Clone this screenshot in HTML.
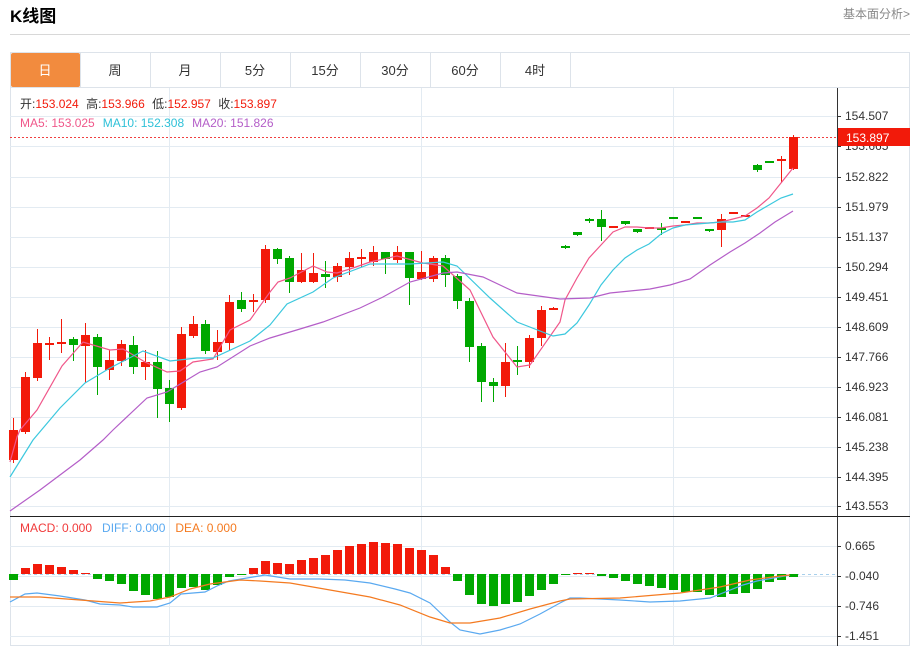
<!DOCTYPE html>
<html><head><meta charset="utf-8"><style>
body{margin:0;width:915px;height:646px;overflow:hidden;background:#fff;font-family:"Liberation Sans","Noto Sans CJK SC",sans-serif;}
</style></head><body>
<svg id="s" width="915" height="646" xmlns="http://www.w3.org/2000/svg" font-family="Liberation Sans, Noto Sans CJK SC, sans-serif">
<text x="10" y="22" font-size="17" font-weight="bold" fill="#000">K线图</text>
<text x="843" y="18" font-size="12" fill="#888">基本面分析&gt;</text>
<line x1="10" y1="34.5" x2="910" y2="34.5" stroke="#d8d8d8"/>
<rect x="10.5" y="52.5" width="899" height="593" fill="none" stroke="#dde3ea"/>
<line x1="10" y1="87.5" x2="910" y2="87.5" stroke="#dde3ea"/>
<rect x="11" y="53" width="69" height="34" fill="#f28b3e" rx="2"/>
<g id="tabs" font-size="13" fill="#333" text-anchor="middle"></g>
<g id="g"></g>
</svg>
<script>
var S=document.getElementById('g'),h='';
var tabs=['日','周','月','5分','15分','30分','60分','4时'],t='';
for(var i=0;i<8;i++){t+='<text x="'+(45+70*i)+'" y="75" fill="'+(i?'#333':'#fff')+'">'+tabs[i]+'</text>';
 if(i>0)t+='<line x1="'+(80+70*(i-1)+0.5)+'" y1="53" x2="'+(80+70*(i-1)+0.5)+'" y2="87" stroke="#dde3ea"/>';}
t+='<line x1="570.5" y1="53" x2="570.5" y2="87" stroke="#dde3ea"/>';
document.getElementById('tabs').innerHTML=t;
var py=[116,146,177,207,237,267,297,327,357,387,417,447,477,506],pl=['154.507','153.665','152.822','151.979','151.137','150.294','149.451','148.609','147.766','146.923','146.081','145.238','144.395','143.553'];
for(i=0;i<py.length;i++){h+='<line x1="10" y1="'+(py[i]+.5)+'" x2="837" y2="'+(py[i]+.5)+'" stroke="#e3ebf2"/>';
 h+='<line x1="837" y1="'+(py[i]+.5)+'" x2="841" y2="'+(py[i]+.5)+'" stroke="#333"/><text x="845" y="'+(py[i]+4)+'" font-size="12" fill="#333">'+pl[i]+'</text>';}
[169.5,421.5,673.5].forEach(function(x){h+='<line x1="'+x+'" y1="88" x2="'+x+'" y2="646" stroke="#e3ebf2"/>';});
var my=[546,576,606,636],ml=['0.665','-0.040','-0.746','-1.451'];
for(i=0;i<4;i++){h+='<line x1="10" y1="'+(my[i]+.5)+'" x2="837" y2="'+(my[i]+.5)+'" stroke="#e3ebf2"/><line x1="837" y1="'+(my[i]+.5)+'" x2="841" y2="'+(my[i]+.5)+'" stroke="#333"/><text x="845" y="'+(my[i]+4)+'" font-size="12" fill="#333">'+ml[i]+'</text>';}
h+='<line x1="10" y1="574.5" x2="837" y2="574.5" stroke="#a8d0ec" stroke-dasharray="3,3"/>';
h+='<line x1="837.5" y1="88" x2="837.5" y2="646" stroke="#333"/><line x1="10" y1="516.5" x2="910" y2="516.5" stroke="#222"/>';
h+='<line x1="10" y1="137.5" x2="837" y2="137.5" stroke="#f04040" stroke-dasharray="2,2"/>';
h+='<rect x="838" y="128" width="72" height="18" fill="#f21a0a"/><text x="846" y="142" font-size="12" fill="#fff">153.897</text>';
var C=[['r',430,460,418,463],['r',377,432,372,434],['r',343,378,329,381],['r',343,345,337,360],['r',342,344,319,353],['g',339,345,337,361],['r',335,346,323,383],['g',337,367,334,395],['r',360,370,350,380],['r',344,361,340,366],['g',345,367,336,374],['r',362,367,350,380],['g',362,389,351,418],['g',388,404,380,422],['r',334,408,327,410],['r',324,336,316,338],['g',324,351,320,354],['r',342,352,330,360],['r',302,343,295,350],['g',300,309,292,312],['r',300,302,294,312],['r',249,300,245,303],
['g',249,259,248,264],['g',258,282,256,293],['r',270,282,253,283],['r',273,282,253,283],['g',274,277,261,288],['r',266,277,263,282],['r',258,267,252,275],['r',257,259,249,267],['r',252,262,246,266],['g',252,259,252,274],['r',252,260,246,263],['g',252,278,252,305],['r',272,279,251,280],['r',258,279,256,282],['g',258,275,255,287],['g',276,301,274,309],['g',301,347,298,362],['g',346,382,343,402],['g',382,386,378,402],['r',362,386,343,397],['g',360,362,346,375],['r',338,362,335,368],['r',310,338,306,346],['r',308,310,307,310],
['g',246,248,245,249],['g',232,235,232,236],['g',219,221,218,223],['g',219,227,210,241],['r',226,228,226,228],['g',221,224,221,225],['g',229,232,229,233],['r',227,229,227,229],['g',228,230,223,235],['g',217,219,217,219],['r',221,223,221,223],['g',217,219,217,219],['g',229,231,229,232],['r',219,230,214,247],['r',212,214,212,214],['r',215,217,215,217],['g',165,170,164,172],['g',161,163,161,163],['r',159,161,156,183],['r',137,169,135,170]];
var R='#f21a0a',G='#00a800';
C.forEach(function(c,i){var x=13+12*i,col=c[0]=='r'?R:G;
 h+='<line x1="'+(x+.5)+'" y1="'+c[3]+'" x2="'+(x+.5)+'" y2="'+c[4]+'" stroke="'+col+'"/>';
 h+='<rect x="'+(x-4)+'" y="'+c[1]+'" width="9" height="'+Math.max(2,c[2]-c[1])+'" fill="'+col+'"/>';});
function pl_(pts,col){return '<polyline fill="none" stroke="'+col+'" stroke-width="1.2" points="'+pts+'"/>';}
h+=pl_('10,462 17,437 20,430 37,410 62,366 83,342 110,350 123,349 145,362 167,372 180,371 193,362 213,359 230,330 250,320 270,292 278,282 290,278 313,266 327,272 337,273 353,268 370,262 397,256 423,263 443,266 470,290 493,337 517,367 530,365 560,322 565,300 577,278 589,258 601,245 613,232 625,227 637,227 649,228 661,228 673,226 685,225 697,223 709,223 721,222 733,219 745,216 757,208 769,198 781,183 793,168','#f0578a');
h+=pl_('10,477 33,440 60,408 85,383 110,368 143,351 170,361 197,358 213,358 250,341 270,325 287,304 313,292 333,278 370,264 410,264 443,262 457,266 490,298 517,322 553,336 565,334 577,323 589,305 601,285 613,270 625,258 637,250 649,244 661,234 673,228 685,225 697,224 709,223 721,222 733,222 745,220 757,212 769,205 781,198 793,194','#3cc8de');
h+=pl_('10,511 40,490 80,460 103,440 113,430 147,398 167,392 200,372 217,367 250,346 270,338 300,329 323,322 360,308 383,297 410,282 443,273 457,272 483,277 517,293 560,299 590,298 610,293 630,291 650,289 670,285 690,279 710,265 730,252 745,243 760,233 775,222 793,211','#b45ec8');
var M=[580,568,564,565,567,570,573,579,581,584,591,595,599,597,588,587,590,585,577,575,568,561,563,564,560,558,555,550,546,544,542,543,544,548,550,555,567,581,595,604,606,604,602,596,590,584,575,573,573,576,578,581,584,586,588,590,592,592,595,597,594,593,589,582,580,577];
M.forEach(function(v,i){var x=13+12*i,z=574;var col=v<z?R:G;if(Math.abs(v-z)<1)return;
 h+='<rect x="'+(x-4)+'" y="'+Math.min(v,z)+'" width="9" height="'+Math.abs(v-z)+'" fill="'+col+'"/>';});
h+=pl_('10,602 25,594 37,593 60,596 85,600 100,604 120,605 133,607 157,607 170,603 181,594 205,592 217,586 229,581 253,577 265,575 290,579 320,579 345,580 370,583 395,589 410,593 430,603 450,622 460,630 480,634 500,630 520,624 540,614 560,603 570,598 580,598 620,600 650,602 680,601 710,598 743,585 757,581 790,575','#5aa9f0');
h+=pl_('10,597 40,597 80,600 120,603 150,601 170,597 190,589 210,584 240,580 260,581 290,583 330,590 370,597 400,605 430,617 450,623 470,623 500,618 530,609 560,601 570,599 620,598 680,593 720,587 750,580 780,576 790,575','#f47a20');
h+='<text x="20" y="108" font-size="12"><tspan fill="#333">开:</tspan><tspan fill="#f21a0a">153.024 </tspan><tspan fill="#333" dx="4">高:</tspan><tspan fill="#f21a0a">153.966 </tspan><tspan fill="#333" dx="4">低:</tspan><tspan fill="#f21a0a">152.957 </tspan><tspan fill="#333" dx="4">收:</tspan><tspan fill="#f21a0a">153.897</tspan></text>';
h+='<text x="20" y="127" font-size="12"><tspan fill="#f0578a">MA5: 153.025</tspan><tspan fill="#2fc1d8" dx="8">MA10: 152.308</tspan><tspan fill="#b45ec8" dx="8">MA20: 151.826</tspan></text>';
h+='<text x="20" y="532" font-size="12"><tspan fill="#f03a3a">MACD: 0.000</tspan><tspan fill="#5aa9f0" dx="10">DIFF: 0.000</tspan><tspan fill="#f47a20" dx="10">DEA: 0.000</tspan></text>';
S.innerHTML=h;
</script>
</body></html>
